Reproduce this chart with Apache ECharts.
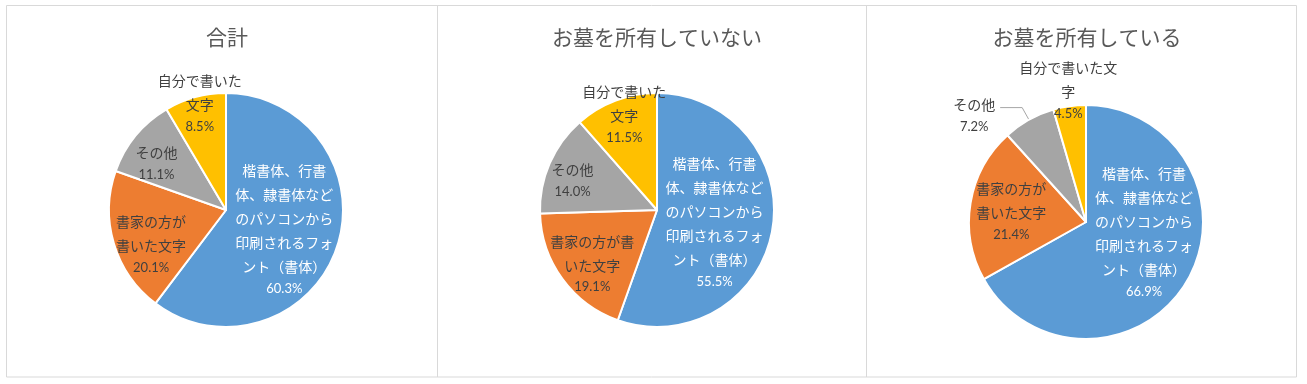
<!DOCTYPE html>
<html><head><meta charset="utf-8">
<script src="https://cdn.jsdelivr.net/npm/echarts@6/dist/echarts.min.js"></script>
<style>html,body{margin:0;padding:0;background:#fff}#c{width:1307px;height:384px}</style>
</head><body><div id="c"></div>
<script>
const categories = ['楷書体、行書体、隷書体などのパソコンから印刷されるフォント（書体）', '書家の方が書いた文字', 'その他', '自分で書いた文字'];
const titles = ['合計', 'お墓を所有していない', 'お墓を所有している'];
const totalValues = [60.3, 20.1, 11.1, 8.5];
const notOwnValues = [55.5, 19.1, 14.0, 11.5];
const ownValues = [66.9, 21.4, 7.2, 4.5];
const totalLabels = ['楷書体、行書\n体、隷書体など\nのパソコンから\n印刷されるフォ\nント（書体）', '書家の方が\n書いた文字', 'その他', '自分で書いた\n文字'];
const notOwnLabels = ['楷書体、行書\n体、隷書体など\nのパソコンから\n印刷されるフォ\nント（書体）', '書家の方が書\nいた文字', 'その他', '自分で書いた\n文字'];
const ownLabels = ['楷書体、行書\n体、隷書体など\nのパソコンから\n印刷されるフォ\nント（書体）', '書家の方が\n書いた文字', 'その他', '自分で書いた文\n字'];

const colors = ['#5B9BD5', '#ED7D31', '#A5A5A5', '#FFC000'];
const JP = '"Noto Sans CJK JP", sans-serif';

const panels = [
  {values: totalValues, labels: totalLabels, center: [226, 210], titleX: 222,
   offsets: [[0, -1], [-16, 16], [-22, -8], [-10, -48]], outside: []},
  {values: notOwnValues, labels: notOwnLabels, center: [657, 210], titleX: 652,
   offsets: [[-3, 1], [-15, 17], [-28, -6], [-11, -39]], outside: []},
  {values: ownValues, labels: ownLabels, center: [1086, 222], titleX: 1082,
   offsets: [[5, -21], [-14, -1], [0, 0], [-9, -71]], outside: [2]}
];

function richFor(color) {
  return {
    n: {fontFamily: JP, fontSize: 14, lineHeight: 24, color: color, align: 'center'},
    p: {fontFamily: 'Lato, "Noto Sans", sans-serif', fontSize: 13, lineHeight: 20, color: color, align: 'center'}
  };
}

const series = panels.map((pn, si) => ({
  type: 'pie',
  center: pn.center,
  radius: 117,
  startAngle: 90,
  clockwise: true,
  animation: false,
  silent: true,
  itemStyle: {borderColor: '#FFFFFF', borderWidth: 2},
  labelLayout: function (params) {
    const o = pn.offsets[params.dataIndex];
    return {dx: o[0], dy: o[1]};
  },
  data: categories.map((name, i) => {
    const isOut = pn.outside.indexOf(i) >= 0;
    const col = i === 0 ? '#FFFFFF' : '#404040';
    return {
      name: name,
      value: pn.values[i],
      itemStyle: {color: colors[i]},
      label: {
        show: true,
        position: isOut ? 'outside' : 'inside',
        formatter: '{n|' + pn.labels[i] + '}\n{p|' + pn.values[i].toFixed(1) + '%}',
        rich: richFor(col),
        padding: isOut ? [14, 0, 0, 0] : 0
      },
      labelLine: {show: isOut, length: 14, length2: 22, lineStyle: {color: '#A6A6A6', width: 1}}
    };
  })
}));

const chart = echarts.init(document.getElementById('c'), null, {renderer: 'canvas'});
chart.setOption({
  backgroundColor: '#FFFFFF',
  title: titles.map((t, i) => ({
    text: t,
    left: panels[i].titleX,
    top: 22,
    textAlign: 'center',
    textStyle: {fontFamily: JP, fontSize: 21, fontWeight: 'normal', color: '#595959'}
  })),
  graphic: [
    {type: 'rect', shape: {x: 6.5, y: 5.5, width: 1290, height: 371.5}, style: {fill: 'none', stroke: '#D9D9D9', lineWidth: 1}, silent: true},
    {type: 'line', shape: {x1: 437.5, y1: 5.5, x2: 437.5, y2: 377}, style: {stroke: '#D9D9D9', lineWidth: 1}, silent: true},
    {type: 'line', shape: {x1: 866.5, y1: 5.5, x2: 866.5, y2: 377}, style: {stroke: '#D9D9D9', lineWidth: 1}, silent: true}
  ],
  series: series
});
</script>
</body></html>
